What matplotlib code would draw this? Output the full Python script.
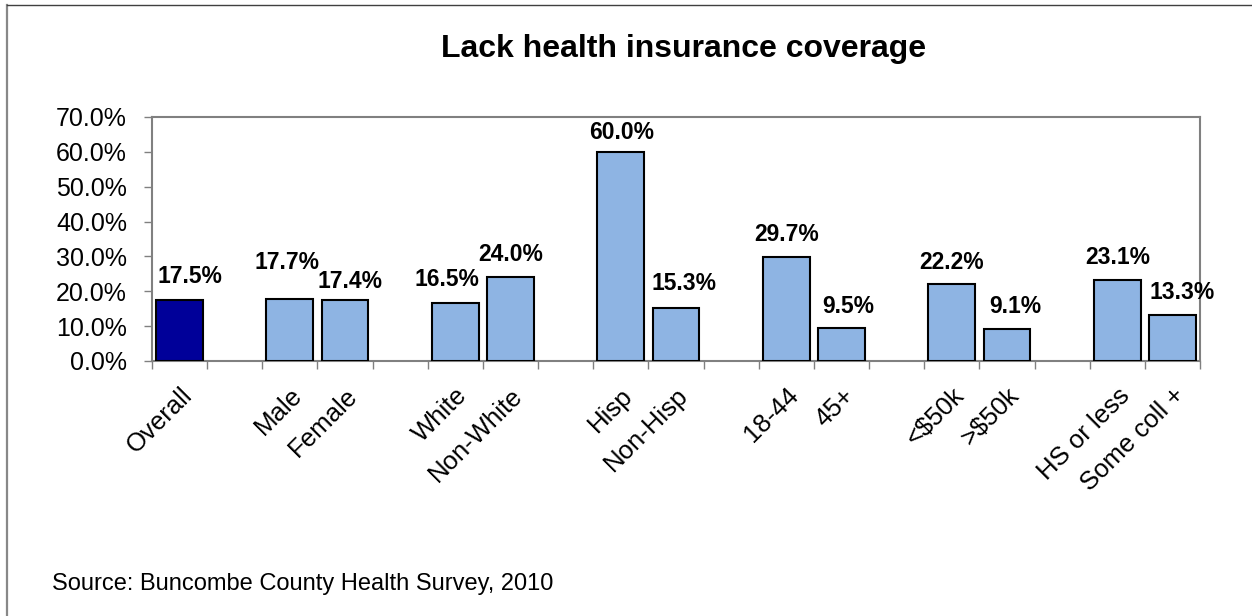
import matplotlib
matplotlib.use("Agg")
import matplotlib.pyplot as plt
from matplotlib.lines import Line2D

plt.rcParams['font.family'] = ['Liberation Sans', 'DejaVu Sans']

# survey results, percent without coverage
groups = [1, 2, 2, 2, 2, 2, 2]
categories = ['Overall', 'Male', 'Female', 'White', 'Non-White', 'Hisp', 'Non-Hisp',
              '18-44', '45+', '<$50k', '>$50k', 'HS or less', 'Some coll +']
values = [17.5, 17.7, 17.4, 16.5, 24.0, 60.0, 15.3, 29.7, 9.5, 22.2, 9.1, 23.1, 13.3]
yticks = [0, 10, 20, 30, 40, 50, 60, 70]

# hand nudges for the value labels (pixels from bar top centre)
label_dx = [10, -3, 5, -8, 0, 1, 8, 0, 7, 0, 8, 0, 10]
label_dy = [17, 30, 12, 17, 16, 13, 18, 16, 15, 15, 16, 16, 16]

# one empty slot between groups
pos = []
slot = 0
for g in groups:
    for k in range(g):
        pos.append(slot)
        slot += 1
    slot += 1
nslots = slot - 1

colors = ['#000099'] + ['#8EB4E3'] * (len(values) - 1)

W, H = 1252, 616
fig = plt.figure(figsize=(W / 100, H / 100), dpi=100)
ax = fig.add_axes([152 / W, 1 - 361 / H, (1200 - 152) / W, (361 - 117) / H])

ax.bar(pos, values, width=0.85, color=colors, edgecolor='black', linewidth=1.5, zorder=3)

for x, v, dx, dy in zip(pos, values, label_dx, label_dy):
    ax.annotate(f'{v:.1f}%', xy=(x, v), xytext=(dx, dy), textcoords='offset pixels',
                ha='center', va='baseline', fontsize=16.5, fontweight='bold')

ax.set_xlim(-0.5, nslots - 0.5)
ax.set_ylim(0, 70)
ax.set_yticks(yticks)
ax.set_yticklabels([f'{t:.1f}%' for t in yticks], fontsize=18)
ax.tick_params(axis='y', length=6, width=1, color='#808080', pad=12)

# boundary ticks on the category axis, labels at bar centres
ax.set_xticks([i - 0.5 for i in range(nslots + 1)])
ax.set_xticklabels([])
ax.tick_params(axis='x', which='major', length=6, width=1, color='#808080')
ax.set_xticks(pos, minor=True)
ax.set_xticklabels(categories, minor=True, rotation=45, ha='right',
                   rotation_mode='anchor', fontsize=18.5)
ax.tick_params(axis='x', which='minor', length=0, pad=16)

for s in ax.spines.values():
    s.set_color('#808080')
    s.set_linewidth(1.5)

fig.text(683.5 / W, 1 - 57 / H, 'Lack health insurance coverage', ha='center',
         va='baseline', fontsize=23, fontweight='bold')
fig.text(52 / W, 1 - 590 / H, 'Source: Buncombe County Health Survey, 2010',
         ha='left', va='baseline', fontsize=17)

# chart area border (left and top edges)
fig.add_artist(Line2D([7 / W, 7 / W], [0, 1 - 5 / H], color='#888888', linewidth=1.6,
                      transform=fig.transFigure))
fig.add_artist(Line2D([7 / W, 1], [1 - 5 / H, 1 - 5 / H], color='#404040', linewidth=1,
                      transform=fig.transFigure))

fig.savefig('out.png', dpi=100)
